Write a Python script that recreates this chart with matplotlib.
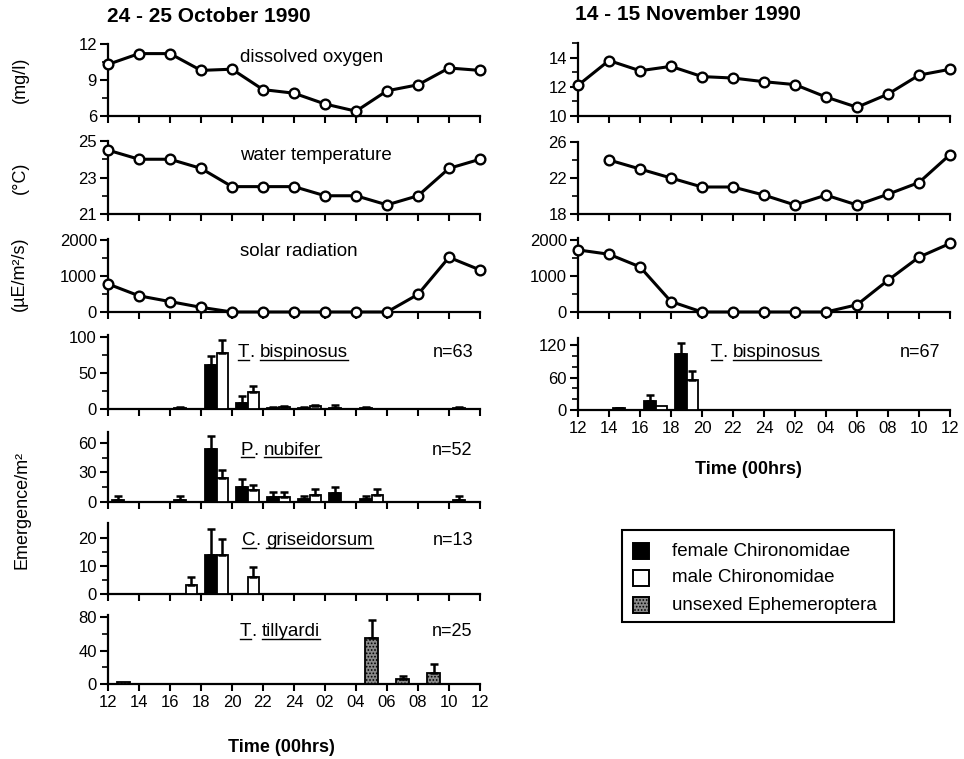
import matplotlib
matplotlib.use('Agg')
import matplotlib.pyplot as plt
from matplotlib.lines import Line2D
from matplotlib.patches import Rectangle
from matplotlib.font_manager import FontProperties
import numpy as np

plt.rcParams['font.family'] = ['Liberation Sans', 'DejaVu Sans']
plt.rcParams['hatch.color'] = 'black'
plt.rcParams['hatch.linewidth'] = 0.8

# ---------------- data ----------------
time_hours = [12, 14, 16, 18, 20, 22, 24, 26, 28, 30, 32, 34, 36]
tick_labels = ['12', '14', '16', '18', '20', '22', '24', '02', '04', '06', '08', '10', '12']
interval_centres = [13, 15, 17, 19, 21, 23, 25, 27, 29, 31, 33, 35]

# October 24-25 1990
oct_oxygen = [10.3, 11.2, 11.2, 9.8, 9.9, 8.2, 7.9, 7.0, 6.4, 8.1, 8.6, 10.0, 9.8]
oct_temp = [24.5, 24.0, 24.0, 23.5, 22.5, 22.5, 22.5, 22.0, 22.0, 21.5, 22.0, 23.5, 24.0]
oct_solar = [780, 450, 290, 130, 0, 0, 0, 0, 0, 0, 490, 1520, 1170]

# November 14-15 1990
nov_oxygen = [12.1, 13.8, 13.1, 13.4, 12.7, 12.6, 12.35, 12.15, 11.3, 10.6, 11.5, 12.8, 13.2]
nov_temp = [np.nan, 24.0, 23.0, 22.0, 21.0, 21.0, 20.1, 19.0, 20.1, 19.0, 20.2, 21.5, 24.6]
nov_solar = [1720, 1600, 1250, 290, 0, 0, 0, 0, 0, 200, 880, 1520, 1900]

# Emergence (per m^2), October
bisp_oct_female = [0, 0, 2, 61, 9, 2, 2, 1, 2, 0, 0, 2]
bisp_oct_female_err = [0, 0, 1, 13, 9, 1, 1, 5, 1, 0, 0, 1]
bisp_oct_male = [0, 0, 0, 78, 23, 3, 4, 0, 0, 0, 0, 0]
bisp_oct_male_err = [0, 0, 0, 18, 9, 1, 1, 0, 0, 0, 0, 0]

nub_oct_female = [2, 0, 2, 54, 15, 5, 3, 9, 3, 0, 0, 2]
nub_oct_female_err = [4, 0, 4, 13, 8, 5, 3, 6, 3, 0, 0, 4]
nub_oct_male = [0, 0, 0, 24, 12, 5, 7, 0, 7, 0, 0, 0]
nub_oct_male_err = [0, 0, 0, 8, 5, 5, 6, 0, 6, 0, 0, 0]

gris_oct_female = [0, 0, 0, 14, 0, 0, 0, 0, 0, 0, 0, 0]
gris_oct_female_err = [0, 0, 0, 9, 0, 0, 0, 0, 0, 0, 0, 0]
gris_oct_male = [0, 0, 3.3, 14, 6, 0, 0, 0, 0, 0, 0, 0]
gris_oct_male_err = [0, 0, 2.7, 5.4, 3.5, 0, 0, 0, 0, 0, 0, 0]

till_oct_unsexed = [3, 0, 0, 0, 0, 0, 0, 0, 55, 5.5, 13.5, 0]
till_oct_unsexed_err = [0, 0, 0, 0, 0, 0, 0, 0, 22, 4.5, 10.5, 0]

# Emergence, November
bisp_nov_female = [0, 3, 17, 103, 0, 0, 0, 0, 0, 0, 0, 0]
bisp_nov_female_err = [0, 1, 11, 20, 0, 0, 0, 0, 0, 0, 0, 0]
bisp_nov_male = [0, 0, 8, 55, 0, 0, 0, 0, 0, 0, 0, 0]
bisp_nov_male_err = [0, 0, 0, 17, 0, 0, 0, 0, 0, 0, 0, 0]

legend_labels = ['female Chironomidae', 'male Chironomidae', 'unsexed Ephemeroptera']

# ---------------- figure ----------------
W, H = 964, 759
fig = plt.figure(figsize=(W / 100, H / 100), dpi=100)

FEMALE = 'black'
MALE = 'white'
UNSEXED = '#8a8a8a'


def ax_at(x0, y0, x1, y1):
    return fig.add_axes([x0 / W, 1 - y1 / H, (x1 - x0) / W, (y1 - y0) / H])


def style(ax, ylim, yticks, yminor, labels=False):
    ax.set_xlim(12, 36)
    ax.set_ylim(*ylim)
    for s in ['top', 'right']:
        ax.spines[s].set_visible(False)
    for s in ['left', 'bottom']:
        ax.spines[s].set_linewidth(1.6)
    ax.set_xticks(time_hours)
    ax.set_xticklabels(tick_labels if labels else [])
    ax.set_yticks(yticks)
    ax.set_yticks(yminor, minor=True)
    ax.tick_params(axis='y', which='major', length=6, width=1.5, labelsize=12, pad=2)
    ax.tick_params(axis='y', which='minor', length=4, width=1.2)
    ax.tick_params(axis='x', which='major', length=5, width=1.5, labelsize=12, pad=3)
    ax.patch.set_alpha(0)


def line(ax, vals):
    ax.plot(time_hours, vals, '-o', color='black', lw=2.2, ms=7, mfc='white',
            mec='black', mew=1.7, clip_on=False, zorder=5)


def bars(ax, vals, errs, offset, width, face, hatch=None):
    c = np.array(interval_centres, float) + offset
    v = np.array(vals, float)
    e = np.array(errs, float)
    m = v > 0
    ax.bar(c[m], v[m], width=width, color=face, edgecolor='black', lw=1.3,
           hatch=hatch, zorder=3)
    me = e > 0
    ax.errorbar(c[me], v[me], yerr=[np.zeros(me.sum()), e[me]], fmt='none',
                ecolor='black', elinewidth=1.8, capsize=3, capthick=1.8, zorder=4)


LX0, LX1 = 108, 480
RX0, RX1 = 578, 950
BW = 0.75

# left column
a = ax_at(LX0, 44, LX1, 116); style(a, (6, 12), [6, 9, 12], [7.5, 10.5]); line(a, oct_oxygen)
a = ax_at(LX0, 141, LX1, 214); style(a, (21, 25), [21, 23, 25], [22, 24]); line(a, oct_temp)
a = ax_at(LX0, 239, LX1, 312); style(a, (0, 2030), [0, 1000, 2000], [500, 1500]); line(a, oct_solar)

a = ax_at(LX0, 335, LX1, 409); style(a, (0, 102.7), [0, 50, 100], [25, 75])
bars(a, bisp_oct_female, bisp_oct_female_err, -BW / 2, BW, FEMALE)
bars(a, bisp_oct_male, bisp_oct_male_err, BW / 2, BW, MALE)

a = ax_at(LX0, 432, LX1, 502); style(a, (0, 71), [0, 30, 60], [15, 45])
bars(a, nub_oct_female, nub_oct_female_err, -BW / 2, BW, FEMALE)
bars(a, nub_oct_male, nub_oct_male_err, BW / 2, BW, MALE)

a = ax_at(LX0, 523, LX1, 594); style(a, (0, 25.2), [0, 10, 20], [5, 15])
bars(a, gris_oct_female, gris_oct_female_err, -BW / 2, BW, FEMALE)
bars(a, gris_oct_male, gris_oct_male_err, BW / 2, BW, MALE)

a = ax_at(LX0, 615, LX1, 684); style(a, (0, 83), [0, 40, 80], [20, 60], labels=True)
bars(a, till_oct_unsexed, till_oct_unsexed_err, 0, 0.8, UNSEXED, hatch='.....')

# right column
a = ax_at(RX0, 43, RX1, 116); style(a, (10, 15), [10, 12, 14], [11, 13, 15]); line(a, nov_oxygen)
a = ax_at(RX0, 142, RX1, 214); style(a, (18, 26), [18, 22, 26], [20, 24]); line(a, nov_temp)
a = ax_at(RX0, 238, RX1, 312); style(a, (0, 2050), [0, 1000, 2000], [500, 1500]); line(a, nov_solar)

a = ax_at(RX0, 338, RX1, 410); style(a, (0, 133), [0, 60, 120], [20, 40, 80, 100], labels=True)
bars(a, bisp_nov_female, bisp_nov_female_err, -BW / 2, BW, FEMALE)
bars(a, bisp_nov_male, bisp_nov_male_err, BW / 2, BW, MALE)

# ---------------- texts ----------------
def ftext(x, y, s, **kw):
    return fig.text(x / W, 1 - y / H, s, **kw)


ftext(107, 16, '24 - 25 October 1990', fontsize=15, fontweight='bold', va='center')
ftext(575, 15, '14 - 15 November 1990', fontsize=15, fontweight='bold', va='center')

ftext(240, 57, 'dissolved oxygen', fontsize=13.5, va='center')
ftext(240, 155, 'water temperature', fontsize=13.5, va='center')
ftext(240, 251, 'solar radiation', fontsize=13.5, va='center')

ftext(20, 80, '(mg/l)', fontsize=13, rotation=90, va='center', ha='center')
ftext(20, 178, '(°C)', fontsize=13, rotation=90, va='center', ha='center')
ftext(19, 274, '(µE/m²/s)', fontsize=13, rotation=90, va='center', ha='center')
ftext(22, 510, 'Emergence/m²', fontsize=13, rotation=90, va='center', ha='center')

ftext(281, 748, 'Time (00hrs)', fontsize=13, fontweight='bold', va='center', ha='center')
ftext(748, 470, 'Time (00hrs)', fontsize=13, fontweight='bold', va='center', ha='center')

renderer = fig.canvas.get_renderer()
fp = FontProperties(family=['Liberation Sans', 'DejaVu Sans'], size=13.5)
w_aa = renderer.get_text_width_height_descent('aa', fp, ismath=False)[0]
w_a_a = renderer.get_text_width_height_descent('a a', fp, ismath=False)[0]
space_w = w_a_a - w_aa


def species(x, yb, initial, rest, n_text, n_right):
    t1 = ftext(x, yb, initial, fontsize=13.5, va='baseline')
    w1 = t1.get_window_extent(renderer).width
    t2 = ftext(x + w1, yb, '.', fontsize=13.5, va='baseline')
    w2 = t2.get_window_extent(renderer).width
    x3 = x + w1 + w2 + space_w
    t3 = ftext(x3, yb, rest, fontsize=13.5, va='baseline')
    w3 = t3.get_window_extent(renderer).width
    uy = 1 - (yb + 2.5) / H
    fig.add_artist(Line2D([x / W, (x + w1) / W], [uy, uy], lw=1.0, color='black'))
    fig.add_artist(Line2D([x3 / W, (x3 + w3) / W], [uy, uy], lw=1.0, color='black'))
    ftext(n_right, yb, n_text, fontsize=13, va='baseline', ha='right')


species(238, 357, 'T', 'bispinosus', 'n=63', 473)
species(241, 455, 'P', 'nubifer', 'n=52', 472)
species(242, 545, 'C', 'griseidorsum', 'n=13', 473)
species(240, 636, 'T', 'tillyardi', 'n=25', 472)
species(711, 357, 'T', 'bispinosus', 'n=67', 940)

# ---------------- legend (drawn as a box) ----------------
def frect(x0, y0, x1, y1, **kw):
    r = Rectangle((x0 / W, 1 - y1 / H), (x1 - x0) / W, (y1 - y0) / H,
                  transform=fig.transFigure, **kw)
    fig.add_artist(r)


frect(622, 530, 894, 622, facecolor='white', edgecolor='black', lw=1.5)
legend_faces = [(FEMALE, None), (MALE, None), (UNSEXED, '.....')]
for i, (lab, (fc, hatch)) in enumerate(zip(legend_labels, legend_faces)):
    yc = 551 + 27 * i
    frect(633, yc - 8, 649, yc + 8, facecolor=fc, edgecolor='black', lw=1.4, hatch=hatch)
    ftext(672, yc, lab, fontsize=13.5, va='center', ha='left')

fig.savefig('out.png', dpi=100)
